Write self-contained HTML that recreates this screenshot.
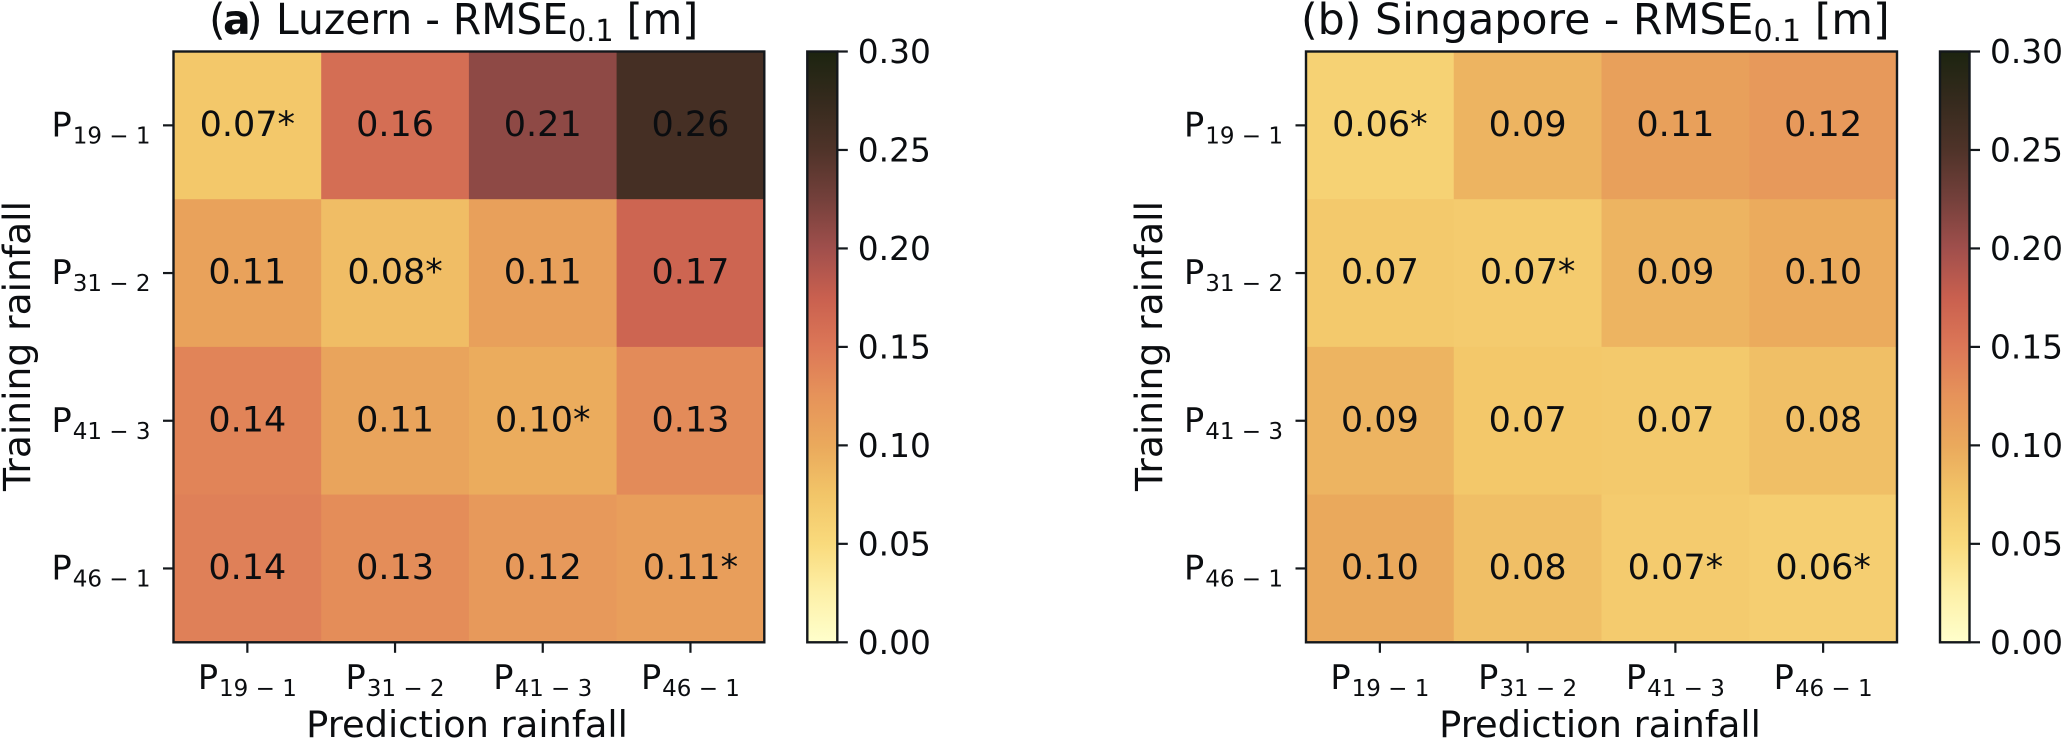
<!DOCTYPE html>
<html lang="en">
<head>
<meta charset="utf-8">
<title>RMSE heatmaps - Luzern and Singapore</title>
<style>
  html, body { margin: 0; padding: 0; background: #fff; }
  body { width: 2067px; height: 744px; overflow: hidden; }
  svg { display: block; }
  text { font-family: "DejaVu Sans", "Liberation Sans", sans-serif; fill: #0b0d10; white-space: pre; }
</style>
</head>
<body>
<svg id="chart" xmlns="http://www.w3.org/2000/svg" width="2067" height="744" viewBox="0 0 2067 744">
  <rect x="0" y="0" width="2067" height="744" fill="#ffffff"/>

  <text y="34" font-size="42.7"><tspan x="209">(</tspan><tspan x="223" font-weight="bold" font-size="41">a</tspan><tspan x="246">)</tspan></text>
  <text transform="translate(276,34) scale(0.955,1)" font-size="42.7"><tspan x="0">Luzern - RMSE</tspan><tspan dy="7" font-size="30">0.1</tspan><tspan dy="-7"> [m]</tspan></text>

  <text y="34" font-size="42.7"><tspan x="1301">(b) Singapore - RMSE</tspan><tspan dy="7" font-size="30">0.1</tspan><tspan dy="-7"> [m]</tspan></text>

  <text x="467" y="737" text-anchor="middle" font-size="36.8">Prediction rainfall</text>
  <text x="1600" y="737" text-anchor="middle" font-size="36.8">Prediction rainfall</text>
  <text transform="translate(30,346) rotate(-90)" text-anchor="middle" font-size="37.6">Training rainfall</text>
  <text transform="translate(1162,346) rotate(-90)" text-anchor="middle" font-size="37.6">Training rainfall</text>
</svg>

<script>
// ---- chart data ----
const predictionLabels = ["19 \u2212 1", "31 \u2212 2", "41 \u2212 3", "46 \u2212 1"];
const trainingLabels = ["19 \u2212 1", "31 \u2212 2", "41 \u2212 3", "46 \u2212 1"];
const luzernValues = [
  [0.072, 0.160, 0.210, 0.260],
  [0.108, 0.082, 0.110, 0.170],
  [0.138, 0.106, 0.097, 0.132],
  [0.142, 0.130, 0.118, 0.112]
];
const luzernStars = [
  [1, 0, 0, 0],
  [0, 1, 0, 0],
  [0, 0, 1, 0],
  [0, 0, 0, 1]
];
const singaporeValues = [
  [0.060, 0.090, 0.110, 0.118],
  [0.070, 0.068, 0.090, 0.098],
  [0.090, 0.072, 0.070, 0.080],
  [0.100, 0.080, 0.068, 0.064]
];
const singaporeStars = [
  [1, 0, 0, 0],
  [0, 1, 0, 0],
  [0, 0, 0, 0],
  [0, 0, 1, 1]
];
const colorbarTicks = [0.00, 0.05, 0.10, 0.15, 0.20, 0.25, 0.30];
const colorDomainMax = 0.30;
const colormap = ["#ffffcc", "#fdf0a8", "#f9da7c", "#f2c568", "#eaa95c", "#e6935a", "#dc7757",
                  "#c9604f", "#a04f4c", "#74403b", "#4f3329", "#352a1d", "#1c2410"];

// ---- helpers ----
const SVG_NS = "http://www.w3.org/2000/svg";
const svg = document.getElementById("chart");
const AXIS_COLOR = "#14181c";
const TOP = 51.5, BOTTOM = 642.3;

function hexToRgb(h) {
  return [parseInt(h.slice(1, 3), 16), parseInt(h.slice(3, 5), 16), parseInt(h.slice(5, 7), 16)];
}
function colorFor(v) {
  const t = Math.max(0, Math.min(1, v / colorDomainMax)) * (colormap.length - 1);
  const i = Math.min(Math.floor(t), colormap.length - 2);
  const f = t - i;
  const a = hexToRgb(colormap[i]), b = hexToRgb(colormap[i + 1]);
  return "rgb(" + a.map((c, k) => Math.round(c + (b[k] - c) * f)).join(",") + ")";
}
function make(tag, parent) {
  const el = document.createElementNS(SVG_NS, tag);
  parent.appendChild(el);
  return el;
}
function line(parent, x1, y1, x2, y2, width) {
  const el = make("line", parent);
  el.setAttribute("x1", x1);
  el.setAttribute("y1", y1);
  el.setAttribute("x2", x2);
  el.setAttribute("y2", y2);
  el.setAttribute("stroke", AXIS_COLOR);
  el.setAttribute("stroke-width", width);
  return el;
}
function tickLabel(parent, x, y, anchor, sub) {
  const t = make("text", parent);
  t.setAttribute("x", x);
  t.setAttribute("y", y);
  t.setAttribute("text-anchor", anchor);
  t.setAttribute("font-size", "33.5");
  const p = make("tspan", t);
  p.textContent = "P";
  const s = make("tspan", t);
  s.setAttribute("dx", "1");
  s.setAttribute("dy", "7");
  s.setAttribute("font-size", "23");
  s.textContent = sub;
  return t;
}

function drawPanel(key, left, right, cbLeft, cbRight, values, stars) {
  const g = make("g", svg);
  
  

  const nRows = values.length, nCols = values[0].length;
  const xBand = (right - left) / nCols;
  const yBand = (BOTTOM - TOP) / nRows;
  const xAxis = c => left + c * xBand;
  const yAxis = r => TOP + r * yBand;

  values.forEach((row, r) => {
    row.forEach((v, c) => {
      const rect = make("rect", g);
      
      
      rect.setAttribute("x", xAxis(c));
      rect.setAttribute("y", yAxis(r));
      rect.setAttribute("width", xBand + 0.4);
      rect.setAttribute("height", yBand + 0.4);
      rect.setAttribute("fill", colorFor(v));
    });
  });

  values.forEach((row, r) => {
    row.forEach((v, c) => {
      const t = make("text", g);
      
      
      t.setAttribute("x", xAxis(c) + xBand / 2);
      t.setAttribute("y", yAxis(r) + yBand / 2 + 10.5);
      t.setAttribute("text-anchor", "middle");
      t.setAttribute("font-size", "35");
      t.textContent = v.toFixed(2) + (stars[r][c] ? "*" : "");
    });
  });

  const frame = make("rect", g);
  
  
  frame.setAttribute("x", left);
  frame.setAttribute("y", TOP);
  frame.setAttribute("width", right - left);
  frame.setAttribute("height", BOTTOM - TOP);
  frame.setAttribute("fill", "none");
  frame.setAttribute("stroke", AXIS_COLOR);
  frame.setAttribute("stroke-width", "2.4");

  predictionLabels.forEach((lab, c) => {
    const x = xAxis(c) + xBand / 2;
    const tick = line(g, x, BOTTOM, x, BOTTOM + 10.5, 2.2);
    
    
    const t = tickLabel(g, x, 689, "middle", lab);
    
    
  });

  trainingLabels.forEach((lab, r) => {
    const y = yAxis(r) + yBand / 2;
    const tick = line(g, left - 10.5, y, left, y, 2.2);
    
    
    const t = tickLabel(g, left - 23, y + 11, "end", lab);
    
    
  });

  // colour bar
  const cbar = make("g", g);
  
  
  const yScale = v => BOTTOM - (v / colorDomainMax) * (BOTTOM - TOP);
  const gradId = "cbar-gradient-" + key;
  const defs = make("defs", cbar);
  const grad = make("linearGradient", defs);
  grad.setAttribute("id", gradId);
  grad.setAttribute("x1", "0");
  grad.setAttribute("y1", "1");
  grad.setAttribute("x2", "0");
  grad.setAttribute("y2", "0");
  colormap.forEach((col, i) => {
    const s = make("stop", grad);
    s.setAttribute("offset", i / (colormap.length - 1));
    s.setAttribute("stop-color", col);
  });
  const bar = make("rect", cbar);
  
  
  bar.setAttribute("x", cbLeft);
  bar.setAttribute("y", TOP);
  bar.setAttribute("width", cbRight - cbLeft);
  bar.setAttribute("height", BOTTOM - TOP);
  bar.setAttribute("fill", "url(#" + gradId + ")");
  bar.setAttribute("stroke", AXIS_COLOR);
  bar.setAttribute("stroke-width", "2.4");

  colorbarTicks.forEach(v => {
    const y = yScale(v);
    const tick = line(cbar, cbRight, y, cbRight + 10.5, y, 2.2);
    
    
    const t = make("text", cbar);
    
    
    t.setAttribute("x", cbRight + 20.5);
    t.setAttribute("y", y + 11.5);
    t.setAttribute("font-size", "32.8");
    t.textContent = v.toFixed(2);
  });
}

drawPanel("a", 173.5, 764.3, 807.3, 837.3, luzernValues, luzernStars);
drawPanel("b", 1306, 1897, 1940, 1969.5, singaporeValues, singaporeStars);
</script>
</body>
</html>
